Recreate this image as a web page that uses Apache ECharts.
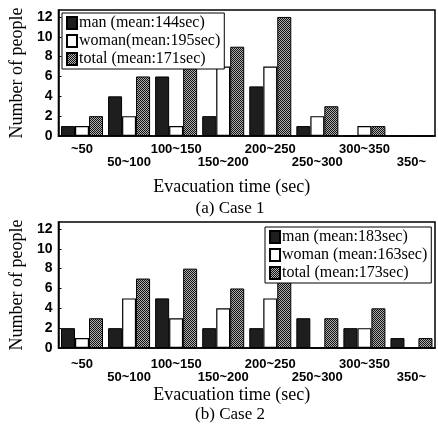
<!DOCTYPE html>
<html>
<head>
<meta charset="utf-8">
<script src="https://cdn.jsdelivr.net/npm/echarts@6/dist/echarts.min.js"></script>
<style>
  html, body { margin: 0; padding: 0; background: #fff; }
  #chart { width: 438px; height: 431px; }
</style>
</head>
<body>
<div id="chart"></div>
<script>
"use strict"

const categories = ["~50", "50~100", "100~150", "150~200", "200~250", "250~300", "300~350", "350~"]

// case 1
const case1Man = [1, 4, 6, 2, 5, 1, 0, 0]
const case1Woman = [1, 2, 1, 7, 7, 2, 1, 0]
const case1Total = [2, 6, 7, 9, 12, 3, 1, 0]
const case1Names = ["man (mean:144sec)", "woman(mean:195sec)", "total (mean:171sec)"]

// case 2
const case2Man = [2, 2, 5, 2, 2, 3, 2, 1]
const case2Woman = [1, 5, 3, 4, 5, 0, 2, 0]
const case2Total = [3, 7, 8, 6, 7, 3, 4, 1]
const case2Names = ["man (mean:183sec)", "woman (mean:163sec)", "total (mean:173sec)"]

const serif = "'Liberation Serif', 'DejaVu Serif', serif"
const sans = "'Liberation Sans', Arial, sans-serif"

// dotted fill for the "total" bars
const makeDots = () => {
  const c = document.createElement("canvas")
  c.width = 2
  c.height = 2
  const ctx = c.getContext("2d")
  ctx.fillStyle = "#b0b0b0"
  ctx.fillRect(0, 0, 2, 2)
  ctx.fillStyle = "#111"
  ctx.fillRect(0, 0, 1, 1)
  ctx.fillRect(1, 1, 1, 1)
  return c
}
const dots = { image: makeDots(), repeat: "repeat" }

const styles = [
  { color: "#1e1e1e", borderColor: "#000", borderWidth: 1 },
  { color: "#fff", borderColor: "#000", borderWidth: 1.2 },
  { color: dots, borderColor: "#000", borderWidth: 1 },
]

const makeSeries = (names, lists, idx) =>
  names.map((n, i) => ({
    name: n,
    type: "bar",
    xAxisIndex: idx,
    yAxisIndex: idx,
    data: lists[i],
    barWidth: 14,
    barGap: "0%",
    itemStyle: styles[i],
  }))

const yAxis = (idx) => ({
  type: "value",
  gridIndex: idx,
  min: 0,
  max: 12.7,
  interval: 2,
  name: "Number of people",
  nameLocation: "middle",
  nameGap: 30,
  nameTextStyle: { fontFamily: serif, fontSize: 18, color: "#000" },
  axisLine: { show: true, lineStyle: { color: "#000", width: 1.5 } },
  axisTick: { show: true, inside: true, length: 3, lineStyle: { color: "#000" } },
  splitLine: { show: false },
  axisLabel: {
    showMaxLabel: false,
    margin: 6,
    color: "#000",
    fontFamily: sans,
    fontWeight: "bold",
    fontSize: 14,
  },
})

const xAxis = (idx, margin, gap) => ({
  type: "category",
  gridIndex: idx,
  data: categories,
  name: "Evacuation time (sec)",
  nameLocation: "middle",
  nameGap: gap,
  nameTextStyle: { fontFamily: serif, fontSize: 18, color: "#000", padding: [0, 30, 0, 0] },
  axisLine: { lineStyle: { color: "#000", width: 1.5 } },
  axisTick: { show: false },
  axisLabel: {
    interval: 0,
    margin: margin,
    color: "#000",
    fontFamily: sans,
    fontWeight: "bold",
    fontSize: 13,
    lineHeight: 13,
    formatter: (v, i) => (i % 2 ? "\n" + v : v),
  },
})

const legend = (names, left, top) => ({
  data: names,
  left: left,
  top: top,
  orient: "vertical",
  icon: "rect",
  itemWidth: 10,
  itemHeight: 12,
  itemGap: 2,
  padding: [2, 4, 2, 4],
  backgroundColor: "#fff",
  borderColor: "#000",
  borderWidth: 1,
  selectedMode: false,
  textStyle: { fontFamily: serif, fontSize: 16, color: "#000", lineHeight: 15, padding: [0, 0, 0, -3] },
})

const option = {
  animation: false,
  backgroundColor: "#fff",
  title: [
    { text: "(a) Case 1", left: 230, top: 200, textAlign: "center",
      textStyle: { fontFamily: serif, fontSize: 17, fontWeight: "normal", color: "#000" }, padding: 0 },
    { text: "(b) Case 2", left: 230, top: 406, textAlign: "center",
      textStyle: { fontFamily: serif, fontSize: 17, fontWeight: "normal", color: "#000" }, padding: 0 },
  ],
  grid: [
    { left: 56, right: 3, top: 10, height: 126, show: true, borderColor: "#000", borderWidth: 1.5 },
    { left: 56, right: 3, top: 222, height: 126, show: true, borderColor: "#000", borderWidth: 1.5 },
  ],
  legend: [legend(case1Names, 62, 13), legend(case2Names, 265, 227)],
  xAxis: [xAxis(0, 7, 42), xAxis(1, 10, 38)],
  yAxis: [yAxis(0), yAxis(1)],
  series: [
    ...makeSeries(case1Names, [case1Man, case1Woman, case1Total], 0),
    ...makeSeries(case2Names, [case2Man, case2Woman, case2Total], 1),
  ],
}

const myChart = echarts.init(document.getElementById("chart"))
myChart.setOption(option)
</script>
</body>
</html>
